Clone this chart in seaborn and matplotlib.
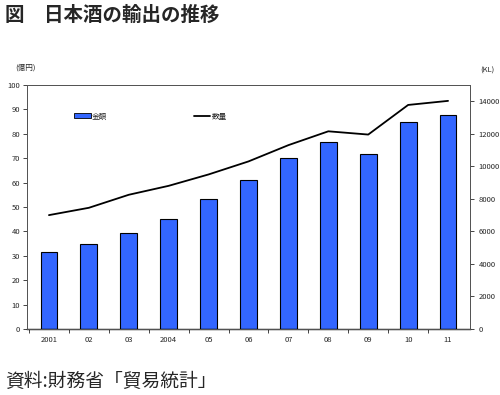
import numpy as np
import pandas as pd
import matplotlib
matplotlib.use("Agg")
import matplotlib.pyplot as plt
import seaborn as sns
from matplotlib.patches import Patch
from matplotlib.lines import Line2D

# --- データ ---
years = ["2001", "02", "03", "2004", "05", "06", "07", "08", "09", "10", "11"]
kingaku = [31.7, 35.0, 39.2, 45.0, 53.1, 61.0, 70.1, 76.8, 71.8, 85.0, 87.8]   # 億円
suryo = [7000, 7450, 8250, 8800, 9500, 10300, 11300, 12150, 11950, 13770, 14020]  # KL

df = pd.DataFrame({"year": years, "kingaku": kingaku, "suryo": suryo})
df["pos"] = np.arange(len(df))

sns.set_theme(style="white")
plt.rcParams["font.family"] = ["Noto Sans CJK JP", "DejaVu Sans"]

fig = plt.figure(figsize=(5.0, 3.95), dpi=100)
ax = fig.add_axes([0.054, 0.167, 0.886, 0.618])

sns.barplot(data=df, x="year", y="kingaku", color="#3366ff", saturation=1,
            edgecolor="black", linewidth=0.8, width=0.42, ax=ax)

ax2 = ax.twinx()
sns.lineplot(data=df, x="pos", y="suryo", color="black", linewidth=1.3,
             sort=False, ax=ax2)

ax.set_xlim(-0.55, len(years) - 0.45)
ax.set_ylim(0, 100)
ax.set_yticks(range(0, 101, 10))
ax2.set_ylim(0, 15000)
ax2.set_yticks(range(0, 14001, 2000))

ax.set_xlabel("")
ax.set_ylabel("")
ax2.set_xlabel("")
ax2.set_ylabel("")

# 目盛り
ax.tick_params(axis="both", labelsize=5.5, length=3, width=0.6, direction="out",
               left=True, bottom=False, pad=2)
ax2.tick_params(axis="y", labelsize=5.5, length=3, width=0.6, direction="out",
                right=True, pad=3)
ax.set_xticks(np.arange(-0.5, len(years) - 0.5, 1), minor=True)
ax.tick_params(axis="x", which="minor", length=3, width=0.6, bottom=True)

for sp in list(ax.spines.values()) + list(ax2.spines.values()):
    sp.set_color("#555555")
    sp.set_linewidth(0.7)
ax.spines["bottom"].set_color("black")
ax.spines["bottom"].set_linewidth(1.0)

# 凡例
h1 = Patch(facecolor="#3366ff", edgecolor="black", linewidth=0.6)
h2 = Line2D([0], [0], color="black", linewidth=1.3)
ax.legend([h1, h2], ["金額", "数量"], ncol=2, frameon=False, fontsize=5.5,
          loc="upper left", bbox_to_anchor=(0.09, 0.915), columnspacing=11.3,
          handlelength=2.2, handleheight=0.6, handletextpad=0.2)

# 単位
fig.text(0.05, 0.83, "(億円)", fontsize=5.5, ha="center", va="center")
fig.text(0.975, 0.822, "(KL)", fontsize=5.5, ha="center", va="center")

# タイトル・出典
fig.text(0.01, 0.96, "図　日本酒の輸出の推移", fontsize=14, fontweight="bold",
         ha="left", va="center")
fig.text(0.01, 0.033, "資料:財務省「貿易統計」", fontsize=13.5,
         ha="left", va="center")

fig.savefig("out.png", dpi=100)
